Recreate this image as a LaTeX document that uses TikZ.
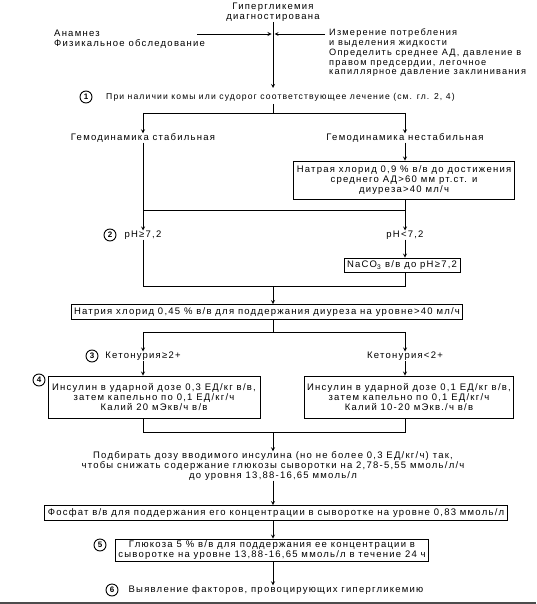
\documentclass[tikz,border=0pt]{standalone}
\usepackage{fontspec}
\setmainfont{Liberation Sans}[LetterSpace=13]
\usetikzlibrary{calc}

\begin{document}
\begin{tikzpicture}[x = 1pt, y = -1pt,
  txt/.style = {font = \fontsize{9.5}{10}\selectfont, inner sep = 0pt, align = center},
  box/.style = {txt, draw, line width = 0.9pt, inner xsep = 3pt, inner ysep = 3pt},
  num/.style = {circle, draw, line width = 0.9pt, minimum size = 12pt, inner sep = 0pt,
    font = \fontsize{8}{8}\selectfont\bfseries},
  line/.style = {line width = 0.8pt},
  arr/.style = {line, -stealth}]
  \pgfmathsetmacro{\xM}{273}
  \pgfmathsetmacro{\xL}{143}
  \pgfmathsetmacro{\xR}{405}

  \useasboundingbox (0, 0) rectangle (536, 604);
  \fill[white] (0, 0) rectangle (536, 604);

  % top
  \node[txt] (diag) at (\xM, 12.5) {Гипергликемия\\диагностирована};
  \node[txt, anchor = north west, align = left] (anam) at (54, 30)
  {Анамнез\\Физикальное обследование};
  \node[txt, anchor = north west, align = left, font = \fontsize{9.2}{9.7}\selectfont]
  (meas) at (329, 29)
  {Измерение потребления\\и выделения жидкости\\Определить среднее АД, давление в\\
    правом предсердии, легочное\\ капиллярное давление заклинивания};
  \coordinate (aL) at (197, 34);
  \coordinate (aR) at (325, 34);
  \node[txt, anchor = west, font = \fontsize{8.6}{9}\selectfont] (s1) at (106, 97)
  {При наличии комы или судорог соответствующее лечение (см. гл. 2, 4)};
  \node[num] (n1) at (86, 97) {1};

  \draw[arr] (diag.south) -- (\xM, 88);
  \draw[arr] (aL) -- (\xM - 1.5, 34);
  \draw[arr] (aR) -- (\xM + 1.5, 34);

  % hemodynamics
  \node[txt] (hs) at (\xL, 138) {Гемодинамика стабильная};
  \node[txt] (hu) at (\xR, 138) {Гемодинамика нестабильная};
  \node[box, minimum height = 38pt] (nacl1) at (404, 180)
  {Натрая хлорид 0,9 \% в/в до достижения\\среднего АД>60 мм рт.ст. и\\диуреза>40 мл/ч};
  \draw[line] (\xM, 104) -- (\xM, 113);
  \draw[line] (\xL, 113) -- (\xR, 113);
  \draw[arr] (\xL, 113) -- (hs.north);
  \draw[arr] (\xR, 113) -- (hu.north);
  \draw[arr] (hu.south) -- (nacl1.north -| hu);
  \draw[line] (hs.south) -- (\xL, 210) -- (\xR, 210) -- (nacl1.south -| hu);

  % pH
  \node[txt] (ph1) at (\xL, 235) {pH≥7,2};
  \node[num] (n2) at (110, 235) {2};
  \node[txt] (ph2) at (\xR, 235) {pH<7,2};
  \node[box] (naco) at (402, 265.5) {NaCO\textsubscript{3} в/в до pH≥7,2};
  \node[box] (nacl2) at (267, 312)
  {Натрия хлорид 0,45 \% в/в для поддержания диуреза на уровне>40 мл/ч};
  \draw[arr] (\xL, 210) -- (ph1.north);
  \draw[arr] (\xR, 210) -- (ph2.north);
  \draw[arr] (ph2.south) -- (naco.north -| ph2);
  \draw[line] (ph1.south) -- (\xL, 286) -- (\xR, 286) -- (naco.south -| ph2);
  \draw[arr] (\xM, 286) -- (nacl2.north -| \xM, 0);

  % ketonuria
  \node[txt] (k1) at (\xL, 356) {Кетонурия≥2+};
  \node[num] (n3) at (92, 356) {3};
  \node[txt] (k2) at (\xR, 356) {Кетонурия<2+};
  \node[box, minimum height = 42pt, minimum width = 212pt] (insL) at (154, 397)
  {Инсулин в ударной дозе 0,3 ЕД/кг в/в,\\затем капельно по 0,1 ЕД/кг/ч\\Калий 20 мЭкв/ч в/в};
  \node[num, fill = white] (n4) at (39, 380) {4};
  \node[box, minimum height = 42pt, minimum width = 208pt] (insR) at (409, 397)
  {Инсулин в ударной дозе 0,1 ЕД/кг в/в,\\затем капельно по 0,1 ЕД/кг/ч\\Калий 10-20 мЭкв./ч в/в};
  \draw[line] (nacl2.south -| \xM, 0) -- (\xM, 332);
  \draw[line] (\xL, 332) -- (\xR, 332);
  \draw[arr] (\xL, 332) -- (k1.north);
  \draw[arr] (\xR, 332) -- (k2.north);
  \draw[arr] (k1.south) -- (insL.north -| k1);
  \draw[arr] (k2.south) -- (insR.north -| k2);
  \draw[line] (insL.south -| k1) -- (\xL, 432) -- (\xR, 432) -- (insR.south -| k2);

  % bottom
  \node[txt] (dose) at (\xM, 466)
  {Подбирать дозу вводимого инсулина (но не более 0,3 ЕД/кг/ч) так,\\
    чтобы снижать содержание глюкозы сыворотки на 2,78-5,55 ммоль/л/ч\\
    до уровня 13,88-16,65 ммоль/л};
  \node[box] (phos) at (276, 513)
  {Фосфат в/в для поддержания его концентрации в сыворотке на уровне 0,83 ммоль/л};
  \node[box, inner ysep = 2pt] (gluc) at (272, 550.5)
  {Глюкоза 5 \% в/в для поддержания ее концентрации в\\
    сыворотке на уровне 13,88-16,65 ммоль/л в течение 24 ч};
  \node[num] (n5) at (100, 545) {5};
  \node[txt] (find) at (276, 590) {Выявление факторов, провоцирующих гипергликемию};
  \node[num] (n6) at (112, 590) {6};
  \draw[arr] (\xM, 432) -- (dose.north -| \xM, 0);
  \draw[arr] (dose.south -| \xM, 0) -- (phos.north -| \xM, 0);
  \draw[arr] (phos.south -| \xM, 0) -- (gluc.north -| \xM, 0);
  \draw[arr] (gluc.south -| \xM, 0) -- (find.north -| \xM, 0);

  \draw[black!70, line width = 1.5pt] (0, 603) -- (536, 603);
\end{tikzpicture}
\end{document}
